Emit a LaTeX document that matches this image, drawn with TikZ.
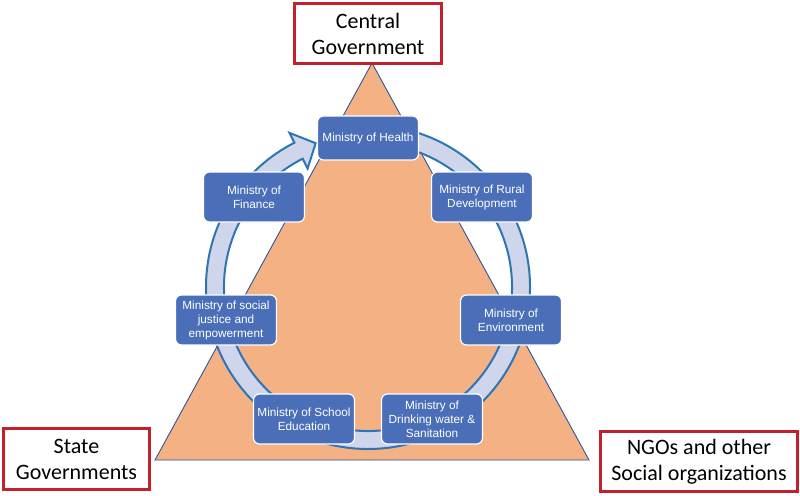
\documentclass[tikz,border=0pt]{standalone}
\usepackage{fontspec}
\usetikzlibrary{calc}
\setmainfont{Liberation Sans}
\newfontfamily\boxfont{Liberation Sans}
\newfontfamily\calfont{Carlito}
\definecolor{triFill}{HTML}{F4B183}
\definecolor{triLine}{HTML}{2F5597}
\definecolor{ringFill}{HTML}{CFD5EA}
\definecolor{ringLine}{HTML}{2E75B6}
\definecolor{boxFill}{HTML}{4A6FB8}
\definecolor{redLine}{HTML}{C3202E}
\tikzset{
  mbox/.style={draw=white, line width=1.2pt, fill=boxFill, rounded corners=6pt,
    minimum width=101pt, minimum height=50pt, align=center,
    inner sep=1pt, text=white, font=\boxfont\fontsize{11.8}{14}\selectfont},
  gbox/.style={draw=redLine, line width=3pt, fill=white, align=center,
    inner sep=1pt, font=\calfont\fontsize{22}{26}\selectfont},
}
\begin{document}
\begin{tikzpicture}[x=1pt,y=1pt]
\useasboundingbox (0,0) rectangle (800,-495);
% triangle
\draw[triLine, line width=0.9pt, fill=triFill, line join=miter]
  (155,-460) -- (589,-460) -- (372,-63) -- cycle;
% circular arrow
\coordinate (C) at (368,-287);
\draw[ringLine, line width=2pt, fill=ringFill, line join=miter]
  ($(C)+(85:162)$) arc[start angle=85, end angle=-243, radius=162]
  -- ($(C)+(-243:173)$) -- ($(C)+(-250:153)$) -- ($(C)+(-243:133)$)
  -- ($(C)+(-243:144)$) arc[start angle=-243, end angle=85, radius=144] -- cycle;
% ministry boxes
\node[mbox, minimum height=44pt] (health) at (368,-138) {Ministry of Health};
\node[mbox] (rural) at (482,-197) {Ministry of Rural\\Development};
\node[mbox] (env) at (511,-320) {Ministry of\\Environment};
\node[mbox] (water) at (432,-419) {Ministry of\\Drinking water \&\\Sanitation};
\node[mbox] (school) at (304,-419) {Ministry of School\\Education};
\node[mbox] (social) at (226,-320) {Ministry of social\\justice and\\empowerment};
\node[mbox] (finance) at (254,-197) {Ministry of\\Finance};
% government boxes
\node[gbox, minimum width=147pt, minimum height=60pt] (central) at (368,-33.5) {Central\\Government};
\node[gbox, minimum width=146pt, minimum height=61pt] (state) at (76.5,-459) {State\\Governments};
\node[gbox, minimum width=197pt, minimum height=60pt] (ngo) at (699,-461.5) {NGOs and other\\Social organizations};
\end{tikzpicture}
\end{document}
